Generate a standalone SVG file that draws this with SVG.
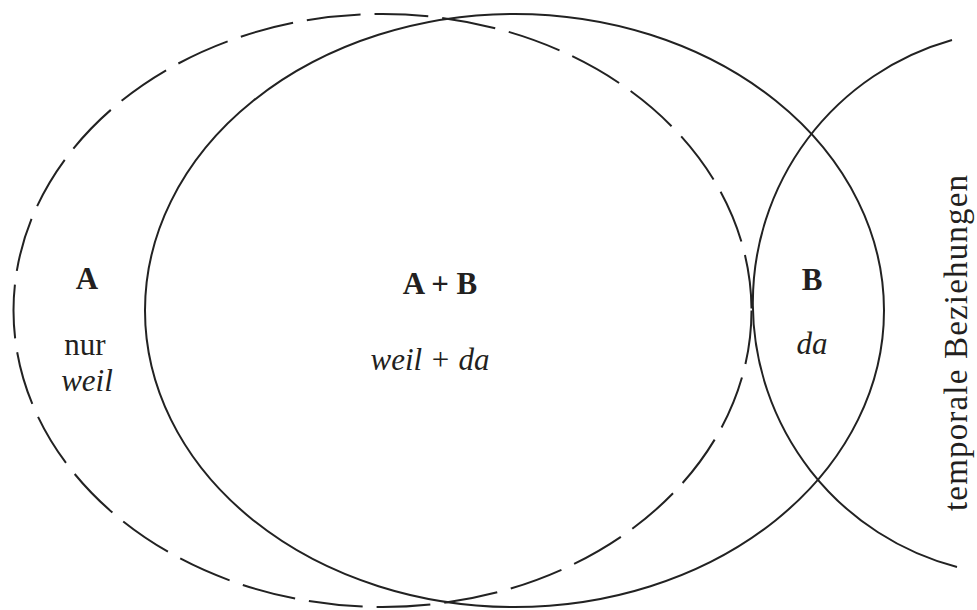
<svg xmlns="http://www.w3.org/2000/svg" width="977" height="610" viewBox="0 0 977 610">
<style>
.ln{fill:none;stroke:#222;stroke-width:2}
.dash{stroke-dasharray:54 14}
text{font-family:"Liberation Serif","Times New Roman",serif;font-size:31px;fill:#231f20;text-anchor:middle}
.b{font-weight:bold}
.i{font-style:italic}
</style>
<rect width="977" height="610" fill="#fff"/>
<g id="connectors">
<ellipse id="setA" class="ln dash" cx="382.5" cy="310.5" rx="369" ry="296.5"/>
<ellipse id="setB" class="ln" cx="514.5" cy="310.5" rx="369.5" ry="296.5"/>
<path id="temporal" class="ln" d="M952,40 A273,273 0 0 0 957,567"/>
</g>
<g id="nodeA"><text class="b" x="87" y="289">A</text><text x="85" y="355">nur</text><text class="i" x="87" y="391">weil</text></g>
<g id="nodeAB"><text class="b" x="440" y="294">A + B</text><text class="i" x="430" y="370">weil + da</text></g>
<g id="nodeB"><text class="b" x="812" y="290">B</text><text class="i" x="812" y="354">da</text></g>
<g id="nodeT"><text x="0" y="0" style="font-size:33px" textLength="336" lengthAdjust="spacing" transform="translate(967,343) rotate(-90)">temporale Beziehungen</text></g>
</svg>
